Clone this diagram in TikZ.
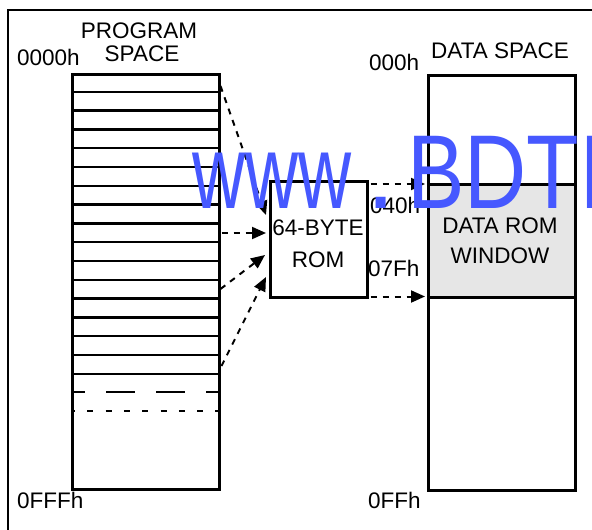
\documentclass[tikz,border=0pt]{standalone}
\usepackage{fontspec}
\setmainfont{Liberation Sans}
\usetikzlibrary{arrows.meta,calc}
\definecolor{wm}{RGB}{70,88,255}
\definecolor{winfill}{RGB}{230,230,230}
\begin{document}
\begin{tikzpicture}[x=1pt,y=-1pt, font=\fontsize{22.5}{26}\selectfont,
  box/.style={draw, line width=2.5pt, inner sep=0pt, anchor=north west},
  lbl/.style={inner sep=0pt, anchor=base west},
  lblc/.style={inner sep=0pt, anchor=base},
  ptr/.style={line width=2pt, dash pattern=on 6pt off 6pt, -{Triangle[length=14pt,width=12pt]}},
  wmark/.style={inner sep=0pt, anchor=base west, text=wm, font=\fontsize{105}{105}\selectfont},
]
\useasboundingbox (0,0) rectangle (592,530);
\clip (0,0) rectangle (592,530);
% outer frame
\draw[line width=1.8pt] (8,534) -- (8,10) -- (596,10);

% program space
\node[box, minimum width=147pt, minimum height=415pt] (prog) at (71,73) {};
\foreach \k in {1,...,16} \draw[line width=2.5pt] (71,{73+18.8*\k}) -- (218,{73+18.8*\k});
\draw[line width=2.5pt, dash pattern=on 29pt off 21pt, dash phase=15pt] (71,392) -- (218,392);
\draw[line width=2.5pt, dash pattern=on 6pt off 12.3pt, dash phase=2pt] (71,411) -- (218,411);

% data space
\node[box, minimum width=147pt, minimum height=415pt] (data) at (427,74) {};
\node[box, fill=winfill, minimum width=147pt, minimum height=113pt] (win) at (427,183) {};

% ROM
\node[box, minimum width=97pt, minimum height=116pt] (rom) at (269,180) {};

% texts
\node[lblc] (t64) at (318,235) {64-BYTE};
\node[lblc] (trom) at (318,267) {ROM};
\node[lblc] (tdr) at (500,233) {DATA ROM};
\node[lblc] (twin) at (500,263) {WINDOW};
\node[lbl] (t040) at (370,213) {040h};
\node[lbl] (t07f) at (368,276) {07Fh};
\node[lblc] (tprog) at (139,38) {PROGRAM};
\node[lblc] (tspace) at (142,61) {SPACE};
\node[lbl] (t0000) at (17,65) {0000h};
\node[lbl] (t000) at (369,70) {000h};
\node[lblc] (tds) at (500,58) {DATA SPACE};
\node[lbl] (t0fff) at (17,508) {0FFFh};
\node[lbl] (t0ff) at (368,508) {0FFh};

% connectors
\coordinate (s1) at ($(prog.north east)+(0,13)$);
\coordinate (e1) at ($(rom.north west)+(-3,35)$);
\coordinate (s2) at ($(prog.north east)+(1,160)$);
\coordinate (e2) at ($(rom.north west)+(-3,53)$);
\coordinate (s3) at ($(prog.north east)+(0,216)$);
\coordinate (e3) at ($(rom.north west)+(-4,75)$);
\coordinate (s4) at ($(prog.north east)+(1,293)$);
\coordinate (e4) at ($(rom.north west)+(-3,97)$);
\coordinate (s5) at ($(rom.north east)+(2,4)$);
\coordinate (e5) at ($(win.north west)+(-2,1)$);
\coordinate (s6) at ($(rom.south east)+(2,-2)$);
\coordinate (e6) at ($(win.south west)+(-2,-2)$);
\draw[ptr] (s1) -- (e1);
\draw[ptr] (s2) -- (e2);
\draw[ptr] (s3) -- (e3);
\draw[ptr] (s4) -- (e4);
\draw[ptr] (s5) -- (e5);
\draw[ptr] (s6) -- (e6);

% watermark
\node[wmark] (wm1) at (192,208) {\scalebox{0.70}[1]{www}};
\node[wmark] (wm2) at (366,208) {.};
\node[wmark] (wm3) at (407,208) {\scalebox{0.82}[1]{BDTI}};
\end{tikzpicture}
\end{document}
